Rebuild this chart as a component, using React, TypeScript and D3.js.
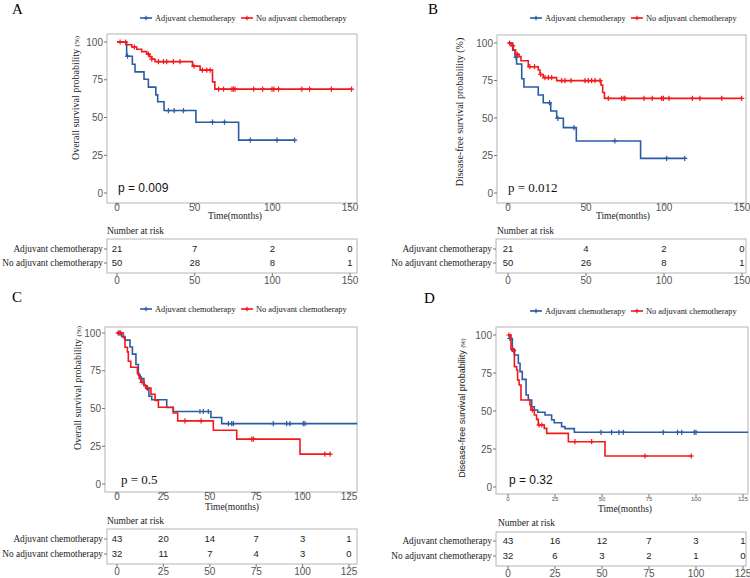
import React from 'react';
import * as d3 from 'd3';

const BLUE = '#2b5ca2';
const RED = '#f3181b';
const SERIF = "'Liberation Serif', 'Times New Roman', serif";
const SANS = "'Liberation Sans', Arial, sans-serif";

const groups = ['Adjuvant chemotherapy', 'No adjuvant chemotherapy'];

// Panel A - overall survival, cohort 1
const aAdjTimes = [0, 6.2, 9.9, 11.6, 17.4, 20.2, 25, 26.2, 30.3, 50.8, 78.3];
const aAdjSurv = [100, 90.6, 85.3, 80.2, 75.3, 70.1, 65, 60.4, 54.6, 46.9, 35];
const aAdjCens = [6.8, 33.1, 36.8, 42.8, 61.5, 69.2, 85.8, 103, 114.4];
const aNoTimes = [0, 5.8, 9.5, 12.7, 15.9, 19.1, 20.9, 22.4, 24.5, 48.6, 53.5, 61.5, 63];
const aNoSurv = [100, 98.2, 96.7, 95.2, 93.6, 92, 90.3, 88.7, 87, 84, 81.4, 73.6, 68.8];
const aNoCens = [2, 5.6, 11.2, 20.2, 22.4, 26.7, 29.9, 32, 36.3, 40.6, 49.5, 55, 57.8, 60, 65.4, 68.6, 74, 75, 76, 88, 93.8, 99.8, 101, 104, 119, 124, 138, 151];
const aRiskTicks = [0, 50, 100, 150];
const aRiskAdj = [21, 7, 2, 0];
const aRiskNo = [50, 28, 8, 1];

// Panel B - disease-free survival, cohort 1
const bAdjTimes = [0, 3, 4.5, 5.5, 8.8, 10.2, 19.4, 22.6, 27.4, 31.2, 35.5, 43.8, 85];
const bAdjSurv = [100, 95.2, 90.5, 86, 76.2, 70.7, 65.3, 60.2, 54.7, 49.8, 43.6, 34.7, 23.1];
const bAdjCens = [5.2, 26.6, 32, 42.3, 68.5, 101.7, 113.3];
const bNoTimes = [0, 1.9, 3.4, 4.9, 7, 8.3, 13, 19.4, 20.5, 22.6, 31.2, 59.6, 60.7, 61.8];
const bNoSurv = [100, 98.2, 95.3, 92.4, 90.9, 88.2, 84.2, 82, 79, 76.9, 74.9, 72, 67, 63.1];
const bNoCens = [1, 3, 6, 14, 17, 21, 23.7, 25.9, 28, 34.4, 36.5, 40.4, 49.4, 51.5, 53.6, 55.8, 59, 64.3, 72.9, 74.4, 75, 87.2, 92.5, 98.5, 99.6, 103.2, 118.2, 123, 137, 149.8];
const bRiskTicks = [0, 50, 100, 150];
const bRiskAdj = [21, 4, 2, 0];
const bRiskNo = [50, 26, 8, 1];

// Panel C - overall survival, cohort 2
const cAdjTimes = [0, 2.5, 4.3, 7, 8.3, 10.2, 11.5, 12.5, 14.5, 16, 17.2, 18.7, 26.8, 30.3, 50.6, 56.4];
const cAdjSurv = [100, 97.7, 95.3, 90.7, 86, 79.1, 72.1, 69.8, 65.1, 62.8, 58.1, 55.8, 50.7, 48, 44, 40];
const cAdjCens = [1, 2, 13, 44.7, 46.5, 49.2, 60, 61.8, 62.7, 84.2, 91.4, 93.2, 100.4, 101.3];
const cNoTimes = [0, 3.4, 4.3, 5.6, 6.1, 7.4, 11, 11.9, 12.9, 14.7, 15.4, 18.3, 20.5, 22.3, 30.3, 32.7, 51.9, 64.5, 98.6];
const cNoSurv = [100, 96.9, 90.6, 87.5, 81.3, 77.3, 73.2, 70.5, 67.4, 65.5, 63.5, 59.4, 55.3, 50.8, 47, 41.8, 35.6, 29.7, 19.8];
const cNoCens = [0.6, 1.5, 13.5, 16.5, 36.6, 45.3, 72.6, 73.5, 112, 114.8];
const cRiskTicks = [0, 25, 50, 75, 100, 125];
const cRiskAdj = [43, 20, 14, 7, 3, 1];
const cRiskNo = [32, 11, 7, 4, 3, 0];

// Panel D - disease-free survival, cohort 2
const dAdjTimes = [0, 0.8, 2.3, 3.4, 5.5, 6.4, 7.6, 9.6, 10.8, 12.6, 14, 15.8, 19.7, 23.2, 24.6, 28.5, 30.3, 35.3];
const dAdjSurv = [100, 97.7, 89.7, 86.8, 81.4, 75.9, 70.8, 60.5, 57.2, 52.8, 50.7, 49.2, 47.4, 44.2, 42.3, 39.7, 38.4, 36];
const dAdjCens = [1, 3, 49.5, 55.1, 59, 61.3, 82.6, 90.2, 92.4, 99.1, 100];
const dNoTimes = [0, 1.6, 3.4, 4.6, 5.1, 5.9, 6.9, 11.7, 12.2, 14, 15.2, 16.1, 19.3, 20.6, 32.1, 51.6];
const dNoSurv = [100, 90.6, 79.2, 77, 70.4, 67.1, 57.2, 53.9, 50.7, 47.4, 44.5, 40.8, 38.6, 35.3, 29.8, 20.4];
const dNoCens = [0.5, 2.5, 13, 16.5, 18, 35.6, 44.5, 72.9, 97.5];
const dRiskTicks = [0, 25, 50, 75, 100, 125];
const dRiskAdj = [43, 16, 12, 7, 3, 1];
const dRiskNo = [32, 6, 3, 2, 1, 0];

const yTicks = [0, 25, 50, 75, 100];

type Series = { times: number[]; surv: number[]; cens: number[]; end: number; color: string };

const panels = [
  {
    letter: 'A', letterPos: [12, 14], legendY: 18, legendX: 140,
    box: { l: 107, t: 34, r: 357, b: 203 }, xr: [117, 350], yr: [193, 42], xMax: 150, xTicks: aRiskTicks,
    xTickFont: 10, xTickY: 211,
    yLabel: 'Overall survival probability ', yPct: '(%)', yFont: SERIF, ySize: 10, yPctSize: 7, yLabelPos: [79, 98],
    pText: 'p = 0.009', pFont: SANS, pSize: 12, pPos: [118, 192],
    timePos: [235, 219], riskTitle: [107, 234],
    riskBox: { l: 107, t: 239, r: 357, b: 273 }, riskRows: [249, 263], riskTickY: 284,
    risk: [aRiskAdj, aRiskNo],
    series: [
      { times: aAdjTimes, surv: aAdjSurv, cens: aAdjCens, end: 114.4, color: BLUE },
      { times: aNoTimes, surv: aNoSurv, cens: aNoCens, end: 151, color: RED },
    ],
  },
  {
    letter: 'B', letterPos: [428, 14], legendY: 18, legendX: 530,
    box: { l: 497, t: 35, r: 746, b: 203 }, xr: [508, 742], yr: [193, 43], xMax: 150, xTicks: bRiskTicks,
    xTickFont: 10, xTickY: 211,
    yLabel: 'Disease-free survival probability ', yPct: '(%)', yFont: SERIF, ySize: 10, yPctSize: 10, yLabelPos: [463, 112],
    pText: 'p = 0.012', pFont: SERIF, pSize: 13, pPos: [508, 192],
    timePos: [623, 219], riskTitle: [497, 234],
    riskBox: { l: 496, t: 239, r: 746, b: 273 }, riskRows: [249, 263], riskTickY: 284,
    risk: [bRiskAdj, bRiskNo],
    series: [
      { times: bAdjTimes, surv: bAdjSurv, cens: bAdjCens, end: 113.3, color: BLUE },
      { times: bNoTimes, surv: bNoSurv, cens: bNoCens, end: 149.8, color: RED },
    ],
  },
  {
    letter: 'C', letterPos: [12, 302], legendY: 309, legendX: 140,
    box: { l: 105, t: 327, r: 357, b: 492 }, xr: [117, 349], yr: [484, 333], xMax: 125, xTicks: cRiskTicks,
    xTickFont: 10, xTickY: 500,
    yLabel: 'Overall survival probability ', yPct: '(%)', yFont: SERIF, ySize: 10, yPctSize: 7, yLabelPos: [81, 388],
    pText: 'p = 0.5', pFont: SERIF, pSize: 13, pPos: [121, 484],
    timePos: [232, 510], riskTitle: [107, 524],
    riskBox: { l: 107, t: 529, r: 357, b: 564 }, riskRows: [539, 554], riskTickY: 575,
    risk: [cRiskAdj, cRiskNo],
    series: [
      { times: cAdjTimes, surv: cAdjSurv, cens: cAdjCens, end: 129.4, color: BLUE },
      { times: cNoTimes, surv: cNoSurv, cens: cNoCens, end: 114.8, color: RED },
    ],
  },
  {
    letter: 'D', letterPos: [424, 303], legendY: 311, legendX: 530,
    box: { l: 496, t: 327, r: 748, b: 494 }, xr: [508, 743], yr: [487, 335], xMax: 125, xTicks: dRiskTicks,
    xTickFont: 6, xTickY: 501,
    yLabel: 'Disease-free survival probability ', yPct: '(%)', yFont: SANS, ySize: 9, yPctSize: 6, yLabelPos: [465, 408],
    pText: 'p = 0.32', pFont: SANS, pSize: 12, pPos: [509, 484],
    timePos: [625, 512], riskTitle: [498, 526],
    riskBox: { l: 496, t: 532, r: 746, b: 566 }, riskRows: [541, 556], riskTickY: 577,
    risk: [dRiskAdj, dRiskNo],
    series: [
      { times: dAdjTimes, surv: dAdjSurv, cens: dAdjCens, end: 127.7, color: BLUE },
      { times: dNoTimes, surv: dNoSurv, cens: dNoCens, end: 97.5, color: RED },
    ],
  },
];

function Plus({ x, y, color, s = 2.6 }: { x: number; y: number; color: string; s?: number }) {
  return (
    <path d={`M${x - s},${y}H${x + s}M${x},${y - s}V${y + s}`} stroke={color} strokeWidth={1.2} fill="none" />
  );
}

function Panel({ p }: { p: any }) {
  const x = d3.scaleLinear().domain([0, p.xMax]).range(p.xr);
  const y = d3.scaleLinear().domain([0, 100]).range(p.yr);
  const line = d3.line<[number, number]>()
    .x(d => x(d[0]))
    .y(d => y(d[1]))
    .curve(d3.curveStepAfter);

  const { box, riskBox } = p;

  return (
    <g>
      <text x={p.letterPos[0]} y={p.letterPos[1]} fontFamily={SERIF} fontSize={15}>{p.letter}</text>

      {/* legend */}
      {p.series.map((s: Series, i: number) => {
        const lx = p.legendX + i * 101;
        return (
          <g key={i}>
            <line x1={lx} x2={lx + 12} y1={p.legendY} y2={p.legendY} stroke={s.color} strokeWidth={1.6} />
            <Plus x={lx + 6} y={p.legendY} color={s.color} s={2.2} />
            <text x={lx + 15} y={p.legendY + 3} fontFamily={SERIF} fontSize={8.4} fill="#222">{groups[i]}</text>
          </g>
        );
      })}

      {/* plot frame */}
      <rect x={box.l} y={box.t} width={box.r - box.l} height={box.b - box.t} fill="white" stroke="#b5b5b5" strokeWidth={1} />

      {yTicks.map(t => (
        <g key={t}>
          <line x1={box.l - 3} x2={box.l} y1={y(t)} y2={y(t)} stroke="#777" />
          <text x={box.l - 4} y={y(t)} dy="0.35em" textAnchor="end" fontFamily={SANS} fontSize={10} fill="#555">{t}</text>
        </g>
      ))}
      {p.xTicks.map((t: number) => (
        <g key={t}>
          <line x1={x(t)} x2={x(t)} y1={box.b} y2={box.b + 3} stroke="#777" />
          <text x={x(t)} y={p.xTickY} textAnchor="middle" fontFamily={SANS} fontSize={p.xTickFont} fill="#555">{t}</text>
        </g>
      ))}

      <text transform={`translate(${p.yLabelPos[0]},${p.yLabelPos[1]}) rotate(-90)`} textAnchor="middle"
        fontFamily={p.yFont} fontSize={p.ySize} fill="#222">
        {p.yLabel}<tspan fontSize={p.yPctSize}>{p.yPct}</tspan>
      </text>
      <text x={p.timePos[0]} y={p.timePos[1]} textAnchor="middle" fontFamily={SERIF} fontSize={9.5} fill="#222">Time(months)</text>

      {/* curves */}
      {p.series.map((s: Series, i: number) => {
        const pts: [number, number][] = s.times.map((t, k) => [t, s.surv[k]] as [number, number]);
        pts.push([s.end, s.surv[s.surv.length - 1]]);
        return (
          <g key={i}>
            <path d={line(pts) || ''} fill="none" stroke={s.color} strokeWidth={1.6} />
            {s.cens.map((c, k) => {
              const idx = d3.bisectRight(s.times, c) - 1;
              return <Plus key={k} x={x(c)} y={y(s.surv[idx])} color={s.color} />;
            })}
          </g>
        );
      })}

      <text x={p.pPos[0]} y={p.pPos[1]} fontFamily={p.pFont} fontSize={p.pSize} fill="#111">{p.pText}</text>

      {/* risk table */}
      <text x={p.riskTitle[0]} y={p.riskTitle[1]} fontFamily={SERIF} fontSize={9.5} fill="#222">Number at risk</text>
      <rect x={riskBox.l} y={riskBox.t} width={riskBox.r - riskBox.l} height={riskBox.b - riskBox.t} fill="white" stroke="#b5b5b5" />
      {p.risk.map((row: number[], r: number) => (
        <g key={r}>
          <line x1={riskBox.l - 3} x2={riskBox.l} y1={p.riskRows[r]} y2={p.riskRows[r]} stroke="#777" />
          <text x={riskBox.l - 4} y={p.riskRows[r]} dy="0.35em" textAnchor="end" fontFamily={SERIF} fontSize={9.3} fill="#222">{groups[r]}</text>
          {row.map((v, k) => (
            <text key={k} x={x(p.xTicks[k])} y={p.riskRows[r]} dy="0.35em" textAnchor="middle" fontFamily={SANS} fontSize={9.5} fill="#222">{v}</text>
          ))}
        </g>
      ))}
      {p.xTicks.map((t: number) => (
        <g key={t}>
          <line x1={x(t)} x2={x(t)} y1={riskBox.b} y2={riskBox.b + 3} stroke="#777" />
          <text x={x(t)} y={p.riskTickY} textAnchor="middle" fontFamily={SANS} fontSize={10} fill="#555">{t}</text>
        </g>
      ))}
    </g>
  );
}

export default function App() {
  return (
    <svg width={750} height={578} style={{ position: 'absolute', left: 0, top: 0, background: 'white' }}>
      <rect width={750} height={578} fill="white" />
      {panels.map(p => <Panel key={p.letter} p={p} />)}
    </svg>
  );
}
